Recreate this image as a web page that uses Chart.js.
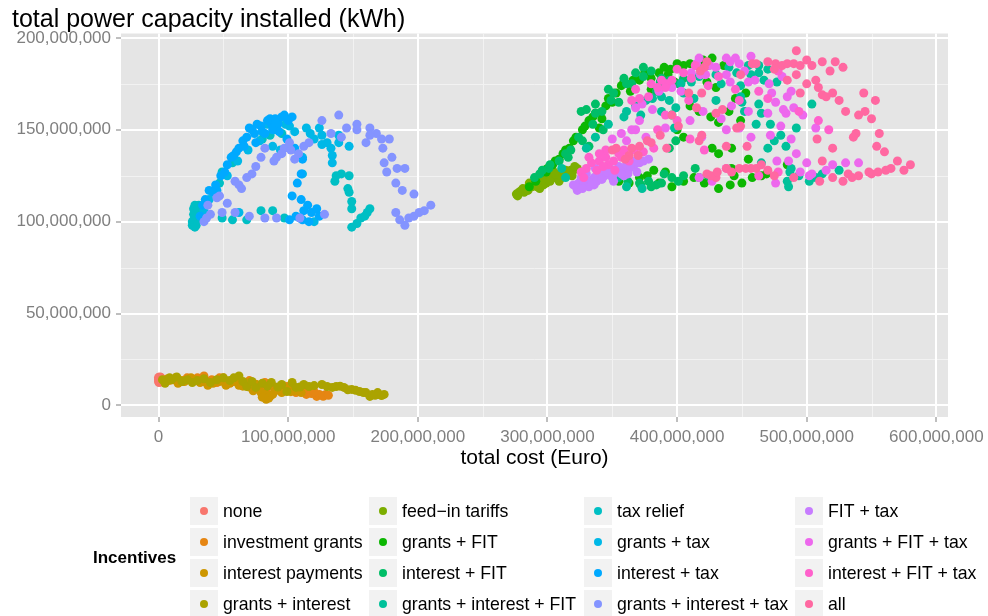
<!DOCTYPE html>
<html>
<head>
<meta charset="utf-8">
<script src="https://cdn.jsdelivr.net/npm/chart.js@4.4.1/dist/chart.umd.min.js"></script>
<style>
  html, body { margin: 0; padding: 0; background: #fff; }
  #wrap { width: 988px; height: 616px; }
</style>
</head>
<body>
<div id="wrap"><canvas id="chart" width="988" height="616"></canvas></div>
<script>
// values are in millions: [total cost (Euro), total power capacity installed (kWh)]
const MILLION = 1e6;

const incentives = [
  'none', 'investment grants', 'interest payments', 'grants + interest',
  'feed\u2212in tariffs', 'grants + FIT', 'interest + FIT', 'grants + interest + FIT',
  'tax relief', 'grants + tax', 'interest + tax', 'grants + interest + tax',
  'FIT + tax', 'grants + FIT + tax', 'interest + FIT + tax', 'all'
];
const colors = [
  '#F8766D', '#E68613', '#CD9600', '#ABA300', '#7CAE00', '#0CB702', '#00BE67', '#00C19A',
  '#00BFC4', '#00B8E7', '#00A9FF', '#8494FF', '#C77CFF', '#ED68ED', '#FF61CC', '#FF68A1'
];

const xTicks = [0, 100, 200, 300, 400, 500, 600];
const yTicks = [0, 50, 100, 150, 200];
const xLimits = [-29, 609];
const yLimits = [-6.3, 202.4];

const none = [[0,14],[0.5,15],[1,13],[1.5,14.5],[0.3,12.5],[2,15],[0.8,13.5],[1.2,15.5],[0,13],[2.5,14],[0.6,14.2],[0,15.3],[1.8,12.8],
  [0.2,14.7],[0.9,15],[1.4,13.2],[2.2,13.5],[0.4,13.8]];
const investmentGrants = [[8,13.5],[18,13],[30,15],[35,16],[41,14],[47,15],[53,12.5],[60,14],[66,11.4],[72,12.5],[82,12.5],[83,7.6],[88,10.3],[93,8.7],[99,10.3],[103,8.7],[109,7.6],[114,6],[116,7],[122,4.9],[124,6],[129,6],[26,14.5],[57,13],[77,11],
  [12,14],[22,15],[38,13],[45,12.5],[50,15],[63,12],[70,13.5],[75,10],[80,9],[85,11],[90,9.5],[96,8],[106,7],[111,8],[118,6.5],[127,5],[131,5.5],[120,7.5]];
const interestPayments = [[5,13],[10,14],[15,12],[20,13],[25,15],[32,12.5],[38,11],[44,13.5],[50,14],[55,12],[62,11],[70,10],[75,11.5],[77,9],[82,6.5],[83,3.3],[86,5],[90,8],[95,7],[100,9.5],[105,8],[110,7],
  [7,14.5],[13,15],[18,13.5],[28,14],[35,13],[42,12],[47,13],[52,11],[58,13],[65,10.5],[68,12],[73,8],[79,7],[80,4.5],[85,4],[88,6],[92,9],[97,8.5],[102,7.5],[108,8.5]];
const grantsInterest = [[3,14],[8.5,15],[18,13],[26,12.5],[45,14],[62,16],[65,13],[68,10.3],[75,9.8],[87,12.5],[95,11.4],[99,7.6],[103,12.5],[106,9.8],[112,11.4],[116,10.3],[126,11.4],[130,10.3],[137,10.3],[143,9.8],[149,8.7],[155,7.6],[160,7],[163,4.9],[165,6],[169,7],[170,6],[174,6],[5,12],
  [10,14],[14,15.5],[22,14],[30,13.5],[35,14.5],[40,12.5],[50,15],[55,13.5],[58,15],[72,13],[80,12],[84,10.5],[92,10],[109,10],[120,10.8],[134,9.8],[140,10.5],[146,8.5],[152,8.2],[158,7],[167,5.5],[172,5.4]];
const feedInTariffs = [[276,115],[278,116],[280,117],[282,116],[284,118],[286,119],[286,121],[288,119],[290,120],[294,121],[294,118],[296,122],[297,120],[298,122],[300,123],[301,125],[303,124],[305,124],[305,127],[307,125],[309,122],[310,126],[313,126],[315,127],[318,128],[320,128],[323,129],
  [277,114],[281,118],[285,117],[289,121],[292,119],[295,123],[299,121],[302,122],[306,126],[311,124],[314,128],[317,126],[321,130],[319,125]];
const grantsFIT = [[286,119],[291,122],[296,127],[300,129],[304,131],[309,134],[314,139],[317,140],[320,144],[327,150],[332,155],[337,159],[342,156],[340,151],[347,167],[353,170],[357,174],[364,171],[371,177],[380,178],[386,181],[395,183],[405,185],[417,187],[427,189],[436,185],[423,176],[430,173],[445,167],[405,146],[426,157],[432,154],[449,155],[427,140],[442,140],[432,137],[455,134],[485,131],[417,160],[355,122],[363,121],[371,124],[377,125],[382,128],[386,121],[391,127],[396,119],[405,122],[413,124],[421,121],[432,118],[441,120],[444,125],[450,121],[458,124],[465,125],[469,126],[442,129],
  [345,163],[350,165],[359,176],[366,177],[375,181],[390,184],[400,186],[410,186],[420,188],[393,180],[398,176],[312,137],[306,133],[299,127],[322,146],[335,157],[329,152],[380,172],[410,163],[400,150],[453,170],[440,160]];
const interestFIT = [[290,124],[294,126],[301,129],[309,133],[314,137],[318,139],[324,146],[332,141],[326,160],[330,161],[337,164],[337,159],[347,172],[351,170],[349,166],[359,178],[361,175],[374,184],[374,179],[384,171],[388,178],[394,177],[401,175],[396,158],[394,140],[399,144],[355,124],[371,121],[378,122],[384,120],[388,121],[396,124],[401,122],[405,125],[414,129],[417,124],[424,125],
  [335,153],[342,160],[355,165],[365,175],[368,181],[380,182],[387,176],[302,131],[296,128],[316,135],[327,144],[343,150],[405,178],[390,126],[380,119],[372,120],[362,122]];
const grantsInterestFIT = [[424,185],[440,184],[446,181],[457,180],[463,185],[463,181],[467,177],[477,176],[434,175],[449,174],[449,168],[450,165],[463,164],[465,159],[461,153],[472,153],[475,144],[484,141],[492,151],[504,164],[465,132],[488,129],[485,122],[486,119],[502,122],[507,124],[512,126],[525,128],[330,140],[337,146],[347,153],[359,157],[361,160],[368,163],[376,166],[381,167],[388,168],[394,166],[399,162],[403,175],[411,176],[417,179],[311,129],[314,124],[353,124],[361,119],[373,118],[398,151],
  [415,185],[420,183],[430,180],[455,185],[470,183],[452,160],[480,147],[470,140],[487,127],[494,125],[430,166],[413,167],[405,170],[388,160],[372,158]];
const taxRelief = [[26,98],[27,101],[28,103],[28,106],[29,108],[28,109],[28,100],[30,102],[31,105],[27,107],[29,98],[28,102],[49,102],[57,101],[68,101],[79,106],[88,106],[97,102],[47,121],[49,127],[57,132],[80,145],[95,148],[86,147],[137,125],[141,126],[147,125],[136,122],[146,118],[147,116],[149,111],[149,107],[163,107],[161,105],[156,102],[153,99],[149,97],[159,103],
  [27,104],[29,100],[30,107],[26,100],[28,97],[31,109]];
const grantsTax = [[114,151],[124,151],[126,147],[120,145],[126,142],[133,140],[134,136],[134,132],[139,147],[139,143],[147,141],[111,135],[111,126],[101,152],[89,150],[78,144],[69,139],[61,133],[53,125],[43,117],[39,112],[35,106],[109,102],[120,100],[62,105],
  [84,153],[92,155],[98,153],[105,149],[117,148],[130,143],[88,141],[94,139]];
const interestTax = [[39,117],[45,117],[51,127],[53,131],[62,140],[65,144],[74,148],[75,143],[82,148],[87,153],[92,153],[103,157],[99,145],[105,140],[111,134],[110,126],[107,121],[103,114],[110,112],[112,106],[111,101],[115,109],[118,105],[122,107],[116,100],[106,103],[101,101],[124,103],[34,109],[32,103],[70,151],[79,152],[97,158],[86,156],
  [58,136],[68,146],[72,150],[76,153],[84,155],[90,156],[95,157],[100,155],[93,149],[88,150],[80,149],[66,141],[60,138],[56,135],[48,125],[44,120],[42,116],[36,112]];
const grantsInterestTax = [[35,100],[37,102],[38,109],[45,113],[47,114],[59,122],[62,120],[68,124],[72,126],[79,135],[82,140],[89,133],[97,140],[101,143],[102,139],[49,105],[59,105],[70,103],[82,102],[91,102],[109,102],[128,104],[126,155],[139,158],[145,151],[133,148],[141,146],[153,153],[153,150],[163,151],[168,148],[163,147],[160,143],[172,145],[178,145],[173,140],[180,135],[174,132],[176,127],[184,129],[190,129],[183,121],[188,117],[197,115],[183,105],[193,102],[197,103],[201,105],[205,106],[210,109],[190,98],[186,101],
  [91,135],[95,137],[105,134],[108,137],[112,141],[116,143],[75,130],[64,118],[53,110],[40,104]];
const fitTax = [[320,120],[324,121],[328,121],[332,122],[336,124],[340,124],[344,125],[347,126],[351,126],[355,127],[359,128],[363,129],[367,131],[371,132],[378,134],[326,124],[336,120],[344,128],[351,122],[332,119],[359,125],[323,117],[330,126],[340,127],[348,129],[355,130],[362,126],[366,133],
  [322,119],[327,118],[334,121],[338,122],[342,123],[346,127],[350,124],[357,126],[361,131],[364,130],[369,127],[374,133],[329,125],[337,129]];
const grantsFitTax = [[438,189],[441,187],[448,186],[457,190],[438,180],[418,180],[441,176],[455,176],[471,175],[481,179],[473,170],[485,168],[488,171],[476,165],[482,161],[484,159],[442,163],[448,151],[457,146],[472,147],[488,145],[492,137],[507,151],[477,133],[486,133],[500,132],[530,132],[515,128],[495,127],[504,126],[502,125],[476,121],[427,122],[438,129],[419,146],[417,124],[417,189],[411,181],[422,180],[396,173],[403,171],[386,171],[373,164],[368,162],[381,161],[371,155],[368,150],[376,146],[391,151],[434,156],[438,150],[357,148],[361,144],
  [415,186],[425,185],[430,184],[445,189],[452,182],[460,177],[490,162],[497,158],[470,159],[480,152],[455,160],[420,160],[410,155],[350,145],[365,150],[540,132],[520,131]];
const interestFitTax = [[414,185],[411,178],[396,177],[392,175],[388,177],[391,173],[371,167],[378,168],[391,158],[409,166],[340,133],[345,135],[334,132],[330,129],[355,137],[359,139],[326,127],[328,124],[347,131],[351,133],[363,133],[374,138],[382,140],[424,174],[432,179],[463,171],[478,182],[494,160],[517,150],[509,155],[463,125],[478,127],[421,139],[448,166],[338,128],[343,130],[352,128],
  [400,183],[405,181],[385,173],[380,175],[365,166],[368,172],[345,139],[357,135],[367,139],[340,137],[332,135],[400,155],[385,150],[410,145],[445,172],[470,167]];
const all = [[492,193],[476,186],[481,185],[485,186],[490,186],[495,185],[504,185],[512,187],[522,187],[528,184],[492,180],[507,177],[509,173],[512,169],[515,168],[495,170],[544,170],[553,166],[530,160],[540,158],[538,148],[536,146],[508,145],[554,141],[580,131],[565,129],[561,128],[550,126],[548,127],[532,126],[535,124],[528,122],[458,186],[461,186],[423,187],[421,184],[418,182],[449,180],[419,170],[430,159],[435,161],[446,151],[449,152],[419,147],[438,141],[454,141],[423,126],[430,124],[438,129],[448,129],[453,129],[457,129],[461,129],[465,131],[442,127],[350,139],[353,140],[365,140],[371,141],[377,144],[363,136],[409,170],[415,162],[396,158],[401,152],[417,144],[426,125],[431,127],
  [470,187],[475,183],[500,188],[518,182],[485,177],[500,175],[520,170],[525,166],[545,160],[550,156],[556,148],[560,138],[570,133],[575,128],[520,140],[512,133],[470,128],[475,125],[490,124],[510,122],[520,124],[540,125],[555,127],[380,143],[387,147],[360,134],[370,136],[392,140]];

const seriesValues = [none, investmentGrants, interestPayments, grantsInterest, feedInTariffs, grantsFIT, interestFIT, grantsInterestFIT,
  taxRelief, grantsTax, interestTax, grantsInterestTax, fitTax, grantsFitTax, interestFitTax, all];

const FONT = '"Liberation Sans", Arial, Helvetica, sans-serif';

const datasets = incentives.map((name, i) => ({
  label: name,
  data: seriesValues[i].map(p => ({x: p[0] * MILLION, y: p[1] * MILLION})),
  backgroundColor: colors[i],
  borderWidth: 0,
  pointRadius: 4.5,
  pointHoverRadius: 4.5,
  order: incentives.length - i
}));

// grey panel + thin minor grid lines, drawn before Chart.js draws the major grid
const panelPlugin = {
  id: 'panel',
  beforeDraw(chart) {
    const {ctx, chartArea: a, scales} = chart;
    ctx.save();
    ctx.fillStyle = '#E5E5E5';
    ctx.fillRect(a.left, a.top, a.width, a.height);
    ctx.strokeStyle = '#F2F2F2';
    ctx.lineWidth = 1;
    const mids = t => t.slice(1).map((v, i) => (v + t[i]) / 2);
    mids(xTicks).forEach(v => {
      const px = Math.round(scales.x.getPixelForValue(v * MILLION)) + 0.5;
      if (px < a.left || px > a.right) return;
      ctx.beginPath(); ctx.moveTo(px, a.top); ctx.lineTo(px, a.bottom); ctx.stroke();
    });
    mids(yTicks).forEach(v => {
      const py = Math.round(scales.y.getPixelForValue(v * MILLION)) + 0.5;
      if (py < a.top || py > a.bottom) return;
      ctx.beginPath(); ctx.moveTo(a.left, py); ctx.lineTo(a.right, py); ctx.stroke();
    });
    ctx.restore();
  }
};

// ggplot style legend: title on the left, four columns filled top to bottom
const legendPlugin = {
  id: 'ggLegend',
  afterDraw(chart) {
    const ctx = chart.ctx;
    const colX = [190, 369, 584, 795];
    const rowTop = 497, rowStep = 31, key = 28;
    ctx.save();
    ctx.fillStyle = '#000';
    ctx.font = 'bold 17px ' + FONT;
    ctx.textBaseline = 'middle';
    ctx.textAlign = 'left';
    ctx.fillText('Incentives', 93, 558);
    ctx.font = '17.7px ' + FONT;
    chart.data.datasets.forEach((ds, i) => {
      const col = Math.floor(i / 4), row = i % 4;
      const x = colX[col], y = rowTop + row * rowStep;
      ctx.fillStyle = '#F2F2F2';
      ctx.fillRect(x, y, key, key);
      ctx.fillStyle = ds.backgroundColor;
      ctx.beginPath();
      ctx.arc(x + key / 2, y + key / 2, 4, 0, Math.PI * 2);
      ctx.fill();
      ctx.fillStyle = '#000';
      ctx.fillText(ds.label, x + key + 5, y + key / 2 + 1);
    });
    ctx.restore();
  }
};

const tickFmt = v => Number(v).toLocaleString('en-US');

new Chart(document.getElementById('chart'), {
  type: 'scatter',
  data: {datasets},
  plugins: [panelPlugin, legendPlugin],
  options: {
    responsive: false,
    animation: false,
    devicePixelRatio: 1,
    layout: {padding: {left: 12, right: 40, top: 0, bottom: 141}},
    plugins: {
      legend: {display: false},
      tooltip: {enabled: false},
      title: {
        display: true,
        text: 'total power capacity installed (kWh)',
        align: 'start',
        color: '#000',
        font: {family: FONT, size: 25, weight: 'normal', lineHeight: 1.1},
        padding: {top: 6, bottom: 0}
      }
    },
    scales: {
      x: {
        type: 'linear',
        min: xLimits[0] * MILLION,
        max: xLimits[1] * MILLION,
        afterBuildTicks: s => { s.ticks = xTicks.map(v => ({value: v * MILLION})); },
        afterFit: s => { s.height = 58; s.paddingLeft = 0; s.paddingRight = 0; },
        border: {display: false},
        grid: {color: '#FFFFFF', lineWidth: 2, tickColor: '#7F7F7F', tickLength: 5, tickWidth: 1},
        ticks: {color: '#7F7F7F', font: {family: FONT, size: 17}, padding: 5, maxRotation: 0, callback: tickFmt},
        title: {display: true, text: 'total cost (Euro)', color: '#000', font: {family: FONT, size: 21}, padding: {top: 4, bottom: 4}}
      },
      y: {
        type: 'linear',
        min: yLimits[0] * MILLION,
        max: yLimits[1] * MILLION,
        afterBuildTicks: s => { s.ticks = yTicks.map(v => ({value: v * MILLION})); },
        afterFit: s => { s.width = 109; s.paddingTop = 0; s.paddingBottom = 0; },
        border: {display: false},
        grid: {color: '#FFFFFF', lineWidth: 2, tickColor: '#7F7F7F', tickLength: 5, tickWidth: 1},
        ticks: {color: '#7F7F7F', font: {family: FONT, size: 17}, padding: 5, callback: tickFmt}
      }
    }
  }
});
</script>
</body>
</html>
